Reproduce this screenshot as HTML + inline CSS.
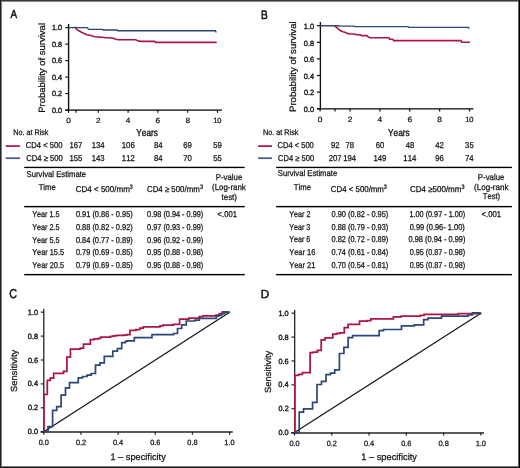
<!DOCTYPE html>
<html><head><meta charset="utf-8"><style>
html,body{margin:0;padding:0;background:#fff;}
svg{display:block;will-change:transform;}
text{font-family:"Liberation Sans",sans-serif;font-kerning:none;text-rendering:geometricPrecision;stroke:#111;stroke-width:0.25px;}
</style></head><body>
<svg width="520" height="468" viewBox="0 0 520 468">
<rect x="0" y="0" width="520" height="468" fill="#fff"/>
<rect x="0" y="0" width="520" height="1" fill="#3a3a3a"/>
<rect x="0" y="1" width="520" height="1" fill="#8a8a8a"/>
<rect x="0" y="467" width="520" height="1" fill="#1a1a1a"/>
<rect x="0" y="466" width="520" height="1" fill="#7a7a7a"/>
<rect x="0" y="0" width="1" height="468" fill="#202020"/>
<rect x="1" y="1" width="1" height="466" fill="#808080"/>
<rect x="519" y="0" width="1" height="468" fill="#000"/>
<rect x="518" y="1" width="1" height="466" fill="#606060"/>
<text transform="translate(10.58,18.20) scale(0.8581,1)" font-size="11.6" fill="#111" style="stroke-width:0.5px">A</text>
<text transform="translate(260.97,18.60) scale(0.8316,1)" font-size="12.2" fill="#111" style="stroke-width:0.5px">B</text>
<text transform="translate(9.35,298.40) scale(0.8320,1)" font-size="13.0" fill="#111" style="stroke-width:0.5px">C</text>
<text transform="translate(260.84,297.80) scale(0.9873,1)" font-size="11.8" fill="#111" style="stroke-width:0.5px">D</text>
<rect x="67.90" y="24.00" width="1.40" height="86.77" fill="#111"/>
<rect x="65.30" y="109.42" width="156.50" height="1.35" fill="#111"/>
<line x1="65.3" y1="27.7" x2="68.5" y2="27.7" stroke="#111" stroke-width="1.2"/>
<text transform="translate(51.97,30.40) scale(0.9700,1)" font-size="7.5" fill="#111" style="stroke-width:0.35px">1.0</text>
<line x1="65.3" y1="44.16" x2="68.5" y2="44.16" stroke="#111" stroke-width="1.2"/>
<text transform="translate(52.00,46.86) scale(0.9700,1)" font-size="7.5" fill="#111" style="stroke-width:0.35px">0.8</text>
<line x1="65.3" y1="60.620000000000005" x2="68.5" y2="60.620000000000005" stroke="#111" stroke-width="1.2"/>
<text transform="translate(52.01,63.32) scale(0.9700,1)" font-size="7.5" fill="#111" style="stroke-width:0.35px">0.6</text>
<line x1="65.3" y1="77.08" x2="68.5" y2="77.08" stroke="#111" stroke-width="1.2"/>
<text transform="translate(51.90,79.78) scale(0.9700,1)" font-size="7.5" fill="#111" style="stroke-width:0.35px">0.4</text>
<line x1="65.3" y1="93.54" x2="68.5" y2="93.54" stroke="#111" stroke-width="1.2"/>
<text transform="translate(52.05,96.24) scale(0.9700,1)" font-size="7.5" fill="#111" style="stroke-width:0.35px">0.2</text>
<line x1="65.3" y1="110.0" x2="68.5" y2="110.0" stroke="#111" stroke-width="1.2"/>
<text transform="translate(51.97,112.70) scale(0.9700,1)" font-size="7.5" fill="#111" style="stroke-width:0.35px">0.0</text>
<line x1="68.5" y1="110.0" x2="68.5" y2="112.8" stroke="#111" stroke-width="1.2"/>
<line x1="98.3" y1="110.0" x2="98.3" y2="112.8" stroke="#111" stroke-width="1.2"/>
<line x1="128.1" y1="110.0" x2="128.1" y2="112.8" stroke="#111" stroke-width="1.2"/>
<line x1="157.9" y1="110.0" x2="157.9" y2="112.8" stroke="#111" stroke-width="1.2"/>
<line x1="187.7" y1="110.0" x2="187.7" y2="112.8" stroke="#111" stroke-width="1.2"/>
<line x1="217.5" y1="110.0" x2="217.5" y2="112.8" stroke="#111" stroke-width="1.2"/>
<line x1="75.95" y1="110.0" x2="75.95" y2="112.8" stroke="#111" stroke-width="1.2"/>
<text transform="translate(66.21,123.30) scale(1.1000,1)" font-size="7.5" fill="#111" style="stroke-width:0.22px">0</text>
<text transform="translate(96.01,123.30) scale(1.1000,1)" font-size="7.5" fill="#111" style="stroke-width:0.22px">2</text>
<text transform="translate(125.83,123.30) scale(1.1000,1)" font-size="7.5" fill="#111" style="stroke-width:0.22px">4</text>
<text transform="translate(155.58,123.30) scale(1.1000,1)" font-size="7.5" fill="#111" style="stroke-width:0.22px">6</text>
<text transform="translate(185.41,123.30) scale(1.1000,1)" font-size="7.5" fill="#111" style="stroke-width:0.22px">8</text>
<text transform="translate(213.19,123.30) scale(1.0000,1)" font-size="7.5" fill="#111" style="stroke-width:0.22px">10</text>
<text transform="translate(136.32,135.60) scale(0.8384,1)" font-size="9.9" fill="#111" style="stroke-width:0.35px">Years</text>
<text transform="translate(44.80,112.78) rotate(-90) scale(1.0344,1)" font-size="9.2" fill="#111">Probability of survival</text>
<text transform="translate(13.31,135.30) scale(0.8881,1)" font-size="8.1" fill="#111">No. at Risk</text>
<line x1="5.7" y1="146.1" x2="19.9" y2="146.1" stroke="#b21e45" stroke-width="1.8"/>
<line x1="5.7" y1="158.2" x2="19.9" y2="158.2" stroke="#455e8d" stroke-width="1.8"/>
<text transform="translate(25.81,148.10) scale(0.8975,1)" font-size="8.5" fill="#111">CD4 &lt; 500</text>
<text transform="translate(26.21,160.60) scale(0.9018,1)" font-size="8.5" fill="#111">CD4 ≥ 500</text>
<text transform="translate(69.45,148.00) scale(0.9100,1)" font-size="8.5" fill="#111">167</text>
<text transform="translate(69.42,160.60) scale(0.9100,1)" font-size="8.5" fill="#111">155</text>
<text transform="translate(91.67,148.00) scale(0.9100,1)" font-size="8.5" fill="#111">134</text>
<text transform="translate(91.72,160.60) scale(0.9100,1)" font-size="8.5" fill="#111">143</text>
<text transform="translate(121.82,148.00) scale(0.9100,1)" font-size="8.5" fill="#111">106</text>
<text transform="translate(121.85,160.60) scale(0.9100,1)" font-size="8.5" fill="#111">112</text>
<text transform="translate(154.04,148.00) scale(0.9100,1)" font-size="8.5" fill="#111">84</text>
<text transform="translate(154.04,160.60) scale(0.9100,1)" font-size="8.5" fill="#111">84</text>
<text transform="translate(183.18,148.00) scale(0.9100,1)" font-size="8.5" fill="#111">69</text>
<text transform="translate(183.15,160.60) scale(0.9100,1)" font-size="8.5" fill="#111">70</text>
<text transform="translate(213.23,148.00) scale(0.9100,1)" font-size="8.5" fill="#111">59</text>
<text transform="translate(213.21,160.60) scale(0.9100,1)" font-size="8.5" fill="#111">55</text>
<polyline points="74.50,27.60 75.80,27.60 77.00,29.60 81.50,32.20 86.70,34.70 90.20,35.20 94.80,36.70 100.00,37.10 102.70,37.20 105.00,37.60 108.80,37.80 113.50,38.20 115.80,39.20 118.00,39.70 136.00,39.70 137.50,40.80 140.70,41.40 154.50,41.40 155.50,42.40 216.70,42.40" fill="none" stroke="#ae1540" stroke-width="1.6" stroke-linejoin="miter"/>
<polyline points="68.50,27.60 87.00,27.60 88.80,29.40 102.60,29.40 103.20,30.00 117.20,30.00 117.80,30.70 215.40,30.70 216.20,32.60" fill="none" stroke="#2b4677" stroke-width="1.4" stroke-linejoin="miter"/>
<rect x="24.20" y="166.75" width="220.50" height="1.37" fill="#000"/>
<rect x="24.20" y="205.91" width="220.50" height="1.43" fill="#000"/>
<rect x="24.20" y="273.92" width="220.50" height="1.43" fill="#000"/>
<text transform="translate(26.55,176.50) scale(0.9076,1)" font-size="8.5" fill="#111">Survival Estimate</text>
<text transform="translate(38.63,190.30) scale(0.9061,1)" font-size="8.5" fill="#111">Time</text>
<text transform="translate(75.79,191.60) scale(0.9414,1)" font-size="8.5" fill="#111">CD4 &lt; 500/mm</text>
<text transform="translate(129.70,188.80) scale(0.8239,1)" font-size="6.4" fill="#111">3</text>
<text transform="translate(147.00,192.00) scale(0.9233,1)" font-size="8.5" fill="#111">CD4 ≥ 500/mm</text>
<text transform="translate(199.99,188.80) scale(0.8568,1)" font-size="6.4" fill="#111">3</text>
<text transform="translate(215.76,180.10) scale(0.9191,1)" font-size="8.5" fill="#111">P-value</text>
<text transform="translate(212.01,190.30) scale(0.9285,1)" font-size="8.5" fill="#111">(Log-rank</text>
<text transform="translate(221.48,199.90) scale(0.9386,1)" font-size="8.5" fill="#111">test)</text>
<text transform="translate(32.14,216.80) scale(0.8547,1)" font-size="8.5" fill="#111">Year 1.5</text>
<text transform="translate(75.91,216.80) scale(0.8718,1)" font-size="8.5" fill="#111">0.91 (0.86 - 0.95)</text>
<text transform="translate(147.11,216.80) scale(0.8609,1)" font-size="8.5" fill="#111">0.98 (0.94 - 0.99)</text>
<text transform="translate(32.14,229.80) scale(0.8547,1)" font-size="8.5" fill="#111">Year 2.5</text>
<text transform="translate(75.91,229.80) scale(0.8718,1)" font-size="8.5" fill="#111">0.88 (0.82 - 0.92)</text>
<text transform="translate(147.11,229.80) scale(0.8609,1)" font-size="8.5" fill="#111">0.97 (0.93 - 0.99)</text>
<text transform="translate(32.14,242.50) scale(0.8547,1)" font-size="8.5" fill="#111">Year 5.5</text>
<text transform="translate(75.91,242.50) scale(0.8718,1)" font-size="8.5" fill="#111">0.84 (0.77 - 0.89)</text>
<text transform="translate(147.11,242.50) scale(0.8609,1)" font-size="8.5" fill="#111">0.96 (0.92 - 0.99)</text>
<text transform="translate(32.14,255.20) scale(0.8646,1)" font-size="8.5" fill="#111">Year 15.5</text>
<text transform="translate(75.91,255.20) scale(0.8718,1)" font-size="8.5" fill="#111">0.79 (0.69 - 0.85)</text>
<text transform="translate(147.11,255.20) scale(0.8609,1)" font-size="8.5" fill="#111">0.95 (0.88 - 0.98)</text>
<text transform="translate(32.14,267.80) scale(0.8646,1)" font-size="8.5" fill="#111">Year 20.5</text>
<text transform="translate(75.91,267.80) scale(0.8718,1)" font-size="8.5" fill="#111">0.79 (0.69 - 0.85)</text>
<text transform="translate(147.11,267.80) scale(0.8609,1)" font-size="8.5" fill="#111">0.95 (0.88 - 0.98)</text>
<text transform="translate(217.62,217.00) scale(0.8949,1)" font-size="8.5" fill="#111">&lt;.001</text>
<rect x="319.72" y="22.00" width="1.35" height="87.50" fill="#111"/>
<rect x="316.90" y="108.20" width="156.50" height="1.30" fill="#111"/>
<line x1="316.90000000000003" y1="25.7" x2="320.1" y2="25.7" stroke="#111" stroke-width="1.2"/>
<text transform="translate(303.84,28.90) scale(0.9700,1)" font-size="7.6" fill="#111" style="stroke-width:0.35px">1.0</text>
<line x1="316.90000000000003" y1="42.3" x2="320.1" y2="42.3" stroke="#111" stroke-width="1.2"/>
<text transform="translate(303.87,45.50) scale(0.9700,1)" font-size="7.6" fill="#111" style="stroke-width:0.35px">0.8</text>
<line x1="316.90000000000003" y1="58.900000000000006" x2="320.1" y2="58.900000000000006" stroke="#111" stroke-width="1.2"/>
<text transform="translate(303.88,62.10) scale(0.9700,1)" font-size="7.6" fill="#111" style="stroke-width:0.35px">0.6</text>
<line x1="316.90000000000003" y1="75.5" x2="320.1" y2="75.5" stroke="#111" stroke-width="1.2"/>
<text transform="translate(303.77,78.70) scale(0.9700,1)" font-size="7.6" fill="#111" style="stroke-width:0.35px">0.4</text>
<line x1="316.90000000000003" y1="92.10000000000001" x2="320.1" y2="92.10000000000001" stroke="#111" stroke-width="1.2"/>
<text transform="translate(303.92,95.30) scale(0.9700,1)" font-size="7.6" fill="#111" style="stroke-width:0.35px">0.2</text>
<line x1="316.90000000000003" y1="108.7" x2="320.1" y2="108.7" stroke="#111" stroke-width="1.2"/>
<text transform="translate(303.84,111.90) scale(0.9700,1)" font-size="7.6" fill="#111" style="stroke-width:0.35px">0.0</text>
<line x1="320.1" y1="108.7" x2="320.1" y2="111.5" stroke="#111" stroke-width="1.2"/>
<line x1="349.98" y1="108.7" x2="349.98" y2="111.5" stroke="#111" stroke-width="1.2"/>
<line x1="379.86" y1="108.7" x2="379.86" y2="111.5" stroke="#111" stroke-width="1.2"/>
<line x1="409.74" y1="108.7" x2="409.74" y2="111.5" stroke="#111" stroke-width="1.2"/>
<line x1="439.62" y1="108.7" x2="439.62" y2="111.5" stroke="#111" stroke-width="1.2"/>
<line x1="469.5" y1="108.7" x2="469.5" y2="111.5" stroke="#111" stroke-width="1.2"/>
<line x1="335.04" y1="108.7" x2="335.04" y2="111.5" stroke="#111" stroke-width="1.2"/>
<text transform="translate(317.78,121.90) scale(1.1000,1)" font-size="7.6" fill="#111" style="stroke-width:0.22px">0</text>
<text transform="translate(347.66,121.90) scale(1.1000,1)" font-size="7.6" fill="#111" style="stroke-width:0.22px">2</text>
<text transform="translate(377.56,121.90) scale(1.1000,1)" font-size="7.6" fill="#111" style="stroke-width:0.22px">4</text>
<text transform="translate(407.39,121.90) scale(1.1000,1)" font-size="7.6" fill="#111" style="stroke-width:0.22px">6</text>
<text transform="translate(437.30,121.90) scale(1.1000,1)" font-size="7.6" fill="#111" style="stroke-width:0.22px">8</text>
<text transform="translate(465.13,121.90) scale(1.0000,1)" font-size="7.6" fill="#111" style="stroke-width:0.22px">10</text>
<text transform="translate(388.12,135.50) scale(0.8344,1)" font-size="9.9" fill="#111" style="stroke-width:0.35px">Years</text>
<text transform="translate(296.30,111.99) rotate(-90) scale(1.0314,1)" font-size="9.3" fill="#111">Probability of survival</text>
<text transform="translate(263.01,135.10) scale(0.8933,1)" font-size="8.1" fill="#111">No. at Risk</text>
<line x1="258.1" y1="146.1" x2="271.9" y2="146.1" stroke="#b21e45" stroke-width="1.8"/>
<line x1="258.1" y1="158.2" x2="271.9" y2="158.2" stroke="#455e8d" stroke-width="1.8"/>
<text transform="translate(277.52,148.10) scale(0.8876,1)" font-size="8.5" fill="#111">CD4 &lt; 500</text>
<text transform="translate(278.12,160.60) scale(0.8892,1)" font-size="8.5" fill="#111">CD4 ≥ 500</text>
<text transform="translate(330.91,148.00) scale(0.9100,1)" font-size="8.5" fill="#111">92</text>
<text transform="translate(328.75,160.60) scale(0.9100,1)" font-size="8.5" fill="#111">207</text>
<text transform="translate(345.47,148.00) scale(0.9100,1)" font-size="8.5" fill="#111">78</text>
<text transform="translate(343.17,160.60) scale(0.9100,1)" font-size="8.5" fill="#111">194</text>
<text transform="translate(375.65,148.00) scale(0.9100,1)" font-size="8.5" fill="#111">60</text>
<text transform="translate(373.44,160.60) scale(0.9100,1)" font-size="8.5" fill="#111">149</text>
<text transform="translate(405.78,148.00) scale(0.9100,1)" font-size="8.5" fill="#111">48</text>
<text transform="translate(403.37,160.60) scale(0.9100,1)" font-size="8.5" fill="#111">114</text>
<text transform="translate(435.30,148.00) scale(0.9100,1)" font-size="8.5" fill="#111">42</text>
<text transform="translate(435.19,160.60) scale(0.9100,1)" font-size="8.5" fill="#111">96</text>
<text transform="translate(465.11,148.00) scale(0.9100,1)" font-size="8.5" fill="#111">35</text>
<text transform="translate(465.01,160.60) scale(0.9100,1)" font-size="8.5" fill="#111">74</text>
<polyline points="333.50,25.80 334.70,25.80 337.10,27.80 338.80,29.50 340.50,30.80 343.00,31.80 345.60,32.50 347.70,33.50 349.00,34.00 354.90,34.00 356.00,34.80 360.20,34.80 361.40,35.60 366.70,35.60 368.00,36.70 370.10,37.70 389.00,37.70 389.60,39.20 392.80,39.20 393.50,40.60 461.00,40.60 461.60,42.30 470.00,42.30" fill="none" stroke="#ae1540" stroke-width="1.6" stroke-linejoin="miter"/>
<polyline points="320.10,25.80 338.80,25.80 339.30,26.10 354.30,26.10 354.80,26.60 408.00,26.60 408.60,27.40 468.40,27.40 469.20,28.60" fill="none" stroke="#2b4677" stroke-width="1.4" stroke-linejoin="miter"/>
<rect x="276.10" y="166.75" width="235.80" height="1.37" fill="#000"/>
<rect x="276.10" y="205.91" width="235.80" height="1.43" fill="#000"/>
<rect x="276.10" y="273.92" width="235.80" height="1.43" fill="#000"/>
<text transform="translate(277.75,176.20) scale(0.9061,1)" font-size="8.5" fill="#111">Survival Estimate</text>
<text transform="translate(293.83,189.90) scale(0.9061,1)" font-size="8.5" fill="#111">Time</text>
<text transform="translate(330.80,191.60) scale(0.9255,1)" font-size="8.5" fill="#111">CD4 &lt; 500/mm</text>
<text transform="translate(383.79,188.80) scale(0.8568,1)" font-size="6.4" fill="#111">3</text>
<text transform="translate(409.99,192.00) scale(0.9397,1)" font-size="8.5" fill="#111">CD4 ≥500/mm</text>
<text transform="translate(461.39,188.80) scale(0.8568,1)" font-size="6.4" fill="#111">3</text>
<text transform="translate(477.86,180.00) scale(0.9191,1)" font-size="8.5" fill="#111">P-value</text>
<text transform="translate(474.10,189.80) scale(0.9425,1)" font-size="8.5" fill="#111">(Log-rank</text>
<text transform="translate(482.83,199.30) scale(0.8904,1)" font-size="8.5" fill="#111">Test)</text>
<text transform="translate(289.24,216.70) scale(0.8473,1)" font-size="8.5" fill="#111">Year 2</text>
<text transform="translate(331.61,216.70) scale(0.8687,1)" font-size="8.5" fill="#111">0.90 (0.82 - 0.95)</text>
<text transform="translate(409.45,216.70) scale(0.8558,1)" font-size="8.5" fill="#111">1.00 (0.97 - 1.00)</text>
<text transform="translate(289.24,229.60) scale(0.8414,1)" font-size="8.5" fill="#111">Year 3</text>
<text transform="translate(331.61,229.60) scale(0.8687,1)" font-size="8.5" fill="#111">0.88 (0.79 - 0.93)</text>
<text transform="translate(409.71,229.60) scale(0.8760,1)" font-size="8.5" fill="#111">0.99 (0.96- 1.00)</text>
<text transform="translate(289.24,242.40) scale(0.8414,1)" font-size="8.5" fill="#111">Year 6</text>
<text transform="translate(331.61,242.40) scale(0.8687,1)" font-size="8.5" fill="#111">0.82 (0.72 - 0.89)</text>
<text transform="translate(408.51,242.40) scale(0.8734,1)" font-size="8.5" fill="#111">0.98 (0.94 - 0.99)</text>
<text transform="translate(289.24,255.10) scale(0.8764,1)" font-size="8.5" fill="#111">Year 16</text>
<text transform="translate(331.61,255.10) scale(0.8687,1)" font-size="8.5" fill="#111">0.74 (0.61 - 0.84)</text>
<text transform="translate(409.72,255.10) scale(0.8516,1)" font-size="8.5" fill="#111">0.95 (0.87 - 0.98)</text>
<text transform="translate(289.24,267.70) scale(0.8776,1)" font-size="8.5" fill="#111">Year 21</text>
<text transform="translate(331.61,267.70) scale(0.8687,1)" font-size="8.5" fill="#111">0.70 (0.54 - 0.81)</text>
<text transform="translate(409.72,267.70) scale(0.8516,1)" font-size="8.5" fill="#111">0.95 (0.87 - 0.98)</text>
<text transform="translate(481.52,217.00) scale(0.9094,1)" font-size="8.5" fill="#111">&lt;.001</text>
<rect x="43.20" y="308.90" width="1.20" height="123.10" fill="#111"/>
<rect x="40.60" y="431.20" width="192.20" height="1.60" fill="#333"/>
<line x1="40.8" y1="431.7" x2="43.8" y2="431.7" stroke="#222" stroke-width="1.2"/>
<text transform="translate(27.84,434.20) scale(0.9700,1)" font-size="7.6" fill="#111" style="stroke-width:0.35px">0.0</text>
<line x1="43.8" y1="431.7" x2="43.8" y2="434.7" stroke="#222" stroke-width="1.2"/>
<text transform="translate(38.68,445.10) scale(0.9700,1)" font-size="7.6" fill="#111" style="stroke-width:0.25px">0.0</text>
<line x1="40.8" y1="407.8" x2="43.8" y2="407.8" stroke="#222" stroke-width="1.2"/>
<text transform="translate(27.92,410.30) scale(0.9700,1)" font-size="7.6" fill="#111" style="stroke-width:0.35px">0.2</text>
<line x1="80.96000000000001" y1="431.7" x2="80.96000000000001" y2="434.7" stroke="#222" stroke-width="1.2"/>
<text transform="translate(75.88,445.10) scale(0.9700,1)" font-size="7.6" fill="#111" style="stroke-width:0.25px">0.2</text>
<line x1="40.8" y1="383.9" x2="43.8" y2="383.9" stroke="#222" stroke-width="1.2"/>
<text transform="translate(27.77,386.40) scale(0.9700,1)" font-size="7.6" fill="#111" style="stroke-width:0.35px">0.4</text>
<line x1="118.12" y1="431.7" x2="118.12" y2="434.7" stroke="#222" stroke-width="1.2"/>
<text transform="translate(112.96,445.10) scale(0.9700,1)" font-size="7.6" fill="#111" style="stroke-width:0.25px">0.4</text>
<line x1="40.8" y1="360.0" x2="43.8" y2="360.0" stroke="#222" stroke-width="1.2"/>
<text transform="translate(27.88,362.50) scale(0.9700,1)" font-size="7.6" fill="#111" style="stroke-width:0.35px">0.6</text>
<line x1="155.28000000000003" y1="431.7" x2="155.28000000000003" y2="434.7" stroke="#222" stroke-width="1.2"/>
<text transform="translate(150.17,445.10) scale(0.9700,1)" font-size="7.6" fill="#111" style="stroke-width:0.25px">0.6</text>
<line x1="40.8" y1="336.09999999999997" x2="43.8" y2="336.09999999999997" stroke="#222" stroke-width="1.2"/>
<text transform="translate(27.87,338.60) scale(0.9700,1)" font-size="7.6" fill="#111" style="stroke-width:0.35px">0.8</text>
<line x1="192.44" y1="431.7" x2="192.44" y2="434.7" stroke="#222" stroke-width="1.2"/>
<text transform="translate(187.33,445.10) scale(0.9700,1)" font-size="7.6" fill="#111" style="stroke-width:0.25px">0.8</text>
<line x1="40.8" y1="312.2" x2="43.8" y2="312.2" stroke="#222" stroke-width="1.2"/>
<text transform="translate(27.84,314.70) scale(0.9700,1)" font-size="7.6" fill="#111" style="stroke-width:0.35px">1.0</text>
<line x1="229.60000000000002" y1="431.7" x2="229.60000000000002" y2="434.7" stroke="#222" stroke-width="1.2"/>
<text transform="translate(224.34,445.10) scale(0.9700,1)" font-size="7.6" fill="#111" style="stroke-width:0.25px">1.0</text>
<line x1="43.8" y1="431.7" x2="229.60000000000002" y2="312.2" stroke="#111" stroke-width="1.2"/>
<text transform="translate(110.40,460.00) scale(0.9928,1)" font-size="9.3" fill="#111">1 – specificity</text>
<text transform="translate(17.00,391.93) rotate(-90) scale(1.0545,1)" font-size="8.9" fill="#111">Sensitivity</text>
<polyline points="43.90,431.70 43.90,394.40 47.30,394.40 47.30,380.30 50.30,380.30 50.30,378.10 53.70,378.10 53.70,373.40 63.50,373.40 63.50,371.30 66.90,371.30 66.90,357.20 70.40,357.20 70.40,349.10 80.30,349.10 80.30,348.20 83.50,348.20 83.50,344.20 90.30,344.20 90.30,339.50 94.20,339.50 94.20,338.80 98.50,338.80 98.50,338.30 100.60,338.30 100.60,337.10 110.40,337.10 110.40,336.40 113.40,336.40 113.40,335.80 116.40,335.80 116.40,335.40 124.00,335.40 124.00,335.00 126.60,335.00 126.60,334.50 130.00,334.50 130.00,330.40 136.00,330.40 136.00,329.50 139.80,329.50 139.80,328.00 143.20,328.00 143.20,326.90 160.00,326.90 160.00,325.80 163.00,325.80 163.00,325.00 173.10,325.00 173.10,324.40 179.60,324.40 179.60,319.00 188.80,319.00 188.80,318.00 199.30,318.00 199.30,316.60 203.10,316.60 203.10,315.80 216.00,315.80 216.00,315.20 219.40,315.20 219.40,313.50 222.40,313.50 222.40,311.90 224.50,311.90 229.40,312.20" fill="none" stroke="#ae1540" stroke-width="1.75" stroke-linejoin="miter"/>
<polyline points="43.80,431.70 48.10,431.70 48.10,426.60 52.60,426.60 52.60,410.40 56.70,410.40 56.70,406.60 61.10,406.60 61.10,395.20 65.50,395.20 65.50,387.80 69.50,387.80 69.50,382.60 78.30,382.60 78.30,377.80 82.50,377.80 82.50,376.50 87.00,376.50 87.00,375.20 91.20,375.20 91.20,373.50 95.50,373.50 95.50,365.20 100.00,365.20 100.00,362.80 104.30,362.80 104.30,356.30 112.80,356.30 112.80,351.20 117.40,351.20 117.40,348.60 121.70,348.60 121.70,342.60 125.30,342.60 125.30,341.40 127.00,341.40 127.00,340.90 134.30,340.90 134.30,337.60 152.00,337.60 152.00,334.60 173.50,334.60 173.50,333.50 177.50,333.50 177.50,328.50 181.70,328.50 181.70,324.80 186.30,324.80 186.30,321.00 194.90,321.00 194.90,320.20 199.30,320.20 199.30,318.40 216.40,318.40 216.40,316.20 218.50,316.20 218.50,315.40 221.50,315.40 221.50,313.70 224.50,313.70 224.50,312.40 229.60,312.20" fill="none" stroke="#2b4677" stroke-width="1.7" stroke-linejoin="miter"/>
<rect x="294.10" y="309.90" width="1.20" height="123.10" fill="#111"/>
<rect x="291.30" y="432.20" width="192.80" height="1.60" fill="#333"/>
<line x1="291.5" y1="432.6" x2="294.5" y2="432.6" stroke="#222" stroke-width="1.2"/>
<text transform="translate(278.44,435.20) scale(0.9700,1)" font-size="7.6" fill="#111" style="stroke-width:0.35px">0.0</text>
<line x1="294.5" y1="432.6" x2="294.5" y2="435.6" stroke="#222" stroke-width="1.2"/>
<text transform="translate(289.38,446.00) scale(0.9700,1)" font-size="7.6" fill="#111" style="stroke-width:0.25px">0.0</text>
<line x1="291.5" y1="408.72" x2="294.5" y2="408.72" stroke="#222" stroke-width="1.2"/>
<text transform="translate(278.52,411.32) scale(0.9700,1)" font-size="7.6" fill="#111" style="stroke-width:0.35px">0.2</text>
<line x1="331.78" y1="432.6" x2="331.78" y2="435.6" stroke="#222" stroke-width="1.2"/>
<text transform="translate(326.70,446.00) scale(0.9700,1)" font-size="7.6" fill="#111" style="stroke-width:0.25px">0.2</text>
<line x1="291.5" y1="384.84000000000003" x2="294.5" y2="384.84000000000003" stroke="#222" stroke-width="1.2"/>
<text transform="translate(278.37,387.44) scale(0.9700,1)" font-size="7.6" fill="#111" style="stroke-width:0.35px">0.4</text>
<line x1="369.06" y1="432.6" x2="369.06" y2="435.6" stroke="#222" stroke-width="1.2"/>
<text transform="translate(363.90,446.00) scale(0.9700,1)" font-size="7.6" fill="#111" style="stroke-width:0.25px">0.4</text>
<line x1="291.5" y1="360.96000000000004" x2="294.5" y2="360.96000000000004" stroke="#222" stroke-width="1.2"/>
<text transform="translate(278.48,363.56) scale(0.9700,1)" font-size="7.6" fill="#111" style="stroke-width:0.35px">0.6</text>
<line x1="406.34000000000003" y1="432.6" x2="406.34000000000003" y2="435.6" stroke="#222" stroke-width="1.2"/>
<text transform="translate(401.23,446.00) scale(0.9700,1)" font-size="7.6" fill="#111" style="stroke-width:0.25px">0.6</text>
<line x1="291.5" y1="337.08000000000004" x2="294.5" y2="337.08000000000004" stroke="#222" stroke-width="1.2"/>
<text transform="translate(278.47,339.68) scale(0.9700,1)" font-size="7.6" fill="#111" style="stroke-width:0.35px">0.8</text>
<line x1="443.62" y1="432.6" x2="443.62" y2="435.6" stroke="#222" stroke-width="1.2"/>
<text transform="translate(438.51,446.00) scale(0.9700,1)" font-size="7.6" fill="#111" style="stroke-width:0.25px">0.8</text>
<line x1="291.5" y1="313.20000000000005" x2="294.5" y2="313.20000000000005" stroke="#222" stroke-width="1.2"/>
<text transform="translate(278.44,315.80) scale(0.9700,1)" font-size="7.6" fill="#111" style="stroke-width:0.35px">1.0</text>
<line x1="480.9" y1="432.6" x2="480.9" y2="435.6" stroke="#222" stroke-width="1.2"/>
<text transform="translate(475.64,446.00) scale(0.9700,1)" font-size="7.6" fill="#111" style="stroke-width:0.25px">1.0</text>
<line x1="294.5" y1="432.6" x2="480.9" y2="313.20000000000005" stroke="#111" stroke-width="1.2"/>
<text transform="translate(361.29,460.00) scale(0.9964,1)" font-size="9.3" fill="#111">1 – specificity</text>
<text transform="translate(271.40,392.93) rotate(-90) scale(1.0570,1)" font-size="8.9" fill="#111">Sensitivity</text>
<polyline points="294.90,432.60 294.90,375.30 298.70,375.30 298.70,374.40 302.40,374.40 302.40,372.50 310.10,372.50 310.10,352.60 313.50,352.60 313.50,352.00 317.40,352.00 317.40,350.30 321.20,350.30 321.20,339.80 325.10,339.80 325.10,337.80 332.80,337.80 332.80,334.10 336.60,334.10 336.60,333.40 340.10,333.40 340.10,332.80 344.30,332.80 344.30,327.60 348.10,327.60 348.10,324.40 359.50,324.40 359.50,321.20 367.20,321.20 367.20,320.60 370.80,320.60 370.80,318.80 393.40,318.80 393.40,316.80 401.10,316.80 401.10,316.10 420.30,316.10 420.30,315.40 424.10,315.40 424.10,314.40 458.20,314.40 458.20,313.50 481.50,313.50" fill="none" stroke="#ae1540" stroke-width="1.75" stroke-linejoin="miter"/>
<polyline points="294.50,432.60 299.20,432.60 299.20,412.10 303.50,412.10 303.50,408.80 312.60,408.80 312.60,402.30 317.00,402.30 317.00,384.50 321.50,384.50 321.50,381.40 326.00,381.40 326.00,374.70 330.40,374.70 330.40,373.10 334.70,373.10 334.70,369.80 339.40,369.80 339.40,353.50 343.90,353.50 343.90,347.30 348.10,347.30 348.10,337.60 352.60,337.60 352.60,335.70 379.20,335.70 379.20,330.60 383.50,330.60 383.50,329.50 401.50,329.50 401.50,325.90 414.30,325.90 414.30,324.80 423.70,324.80 423.70,319.70 428.00,319.70 428.00,318.10 441.50,318.10 441.50,316.20 468.10,316.20 468.10,315.00 472.40,315.00 472.40,312.90 480.90,312.90" fill="none" stroke="#2b4677" stroke-width="1.7" stroke-linejoin="miter"/>
</svg>
</body></html>
